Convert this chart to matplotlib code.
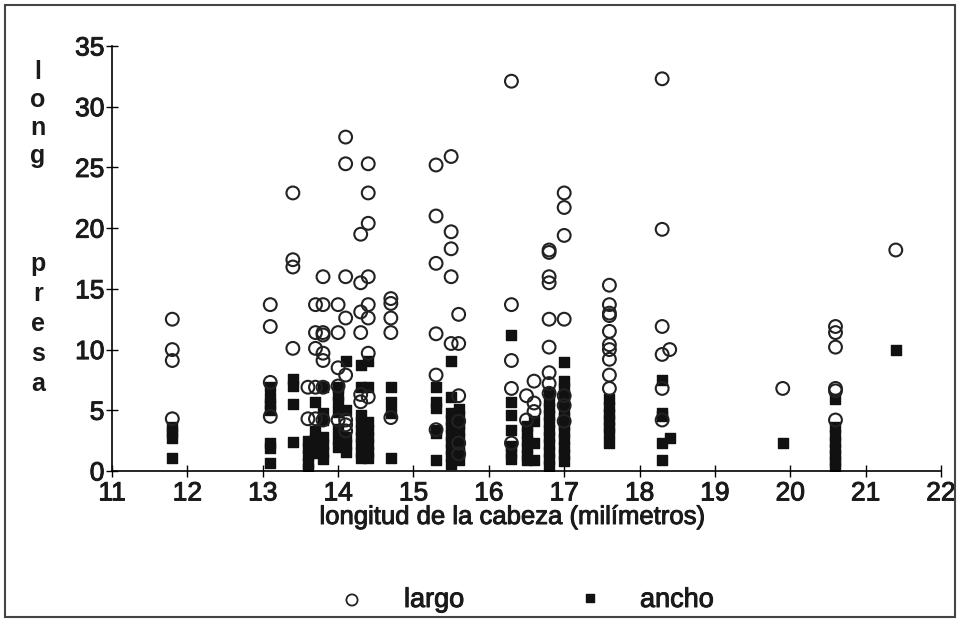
import matplotlib
matplotlib.use("Agg")
import matplotlib.pyplot as plt
import matplotlib.patheffects as pe
from matplotlib.patches import Rectangle

plt.rcParams['font.family'] = ['Liberation Sans', 'DejaVu Sans']

# longitud de la cabeza -> valores de "largo" (circulos)
largo = {
    11.8: [12.5, 10.0, 9.1, 4.3],
    13.1: [13.7, 11.9, 7.3, 4.5],
    13.4: [22.9, 17.4, 16.8, 10.1],
    13.6: [6.9, 4.3],
    13.7: [13.7, 11.4, 10.1, 6.9, 4.3],
    13.8: [16.0, 13.7, 11.4, 11.2, 9.7, 9.1, 6.9, 4.2],
    14.0: [13.7, 11.4, 8.5, 7.0, 4.2],
    14.1: [27.5, 25.3, 16.0, 12.6, 7.9, 4.2, 3.8, 3.3],
    14.3: [19.5, 15.5, 13.1, 11.4, 6.3, 5.7],
    14.4: [25.3, 22.9, 20.4, 16.0, 13.7, 12.6, 9.7, 6.1],
    14.7: [14.2, 13.8, 12.6, 11.4, 4.4],
    15.3: [25.2, 21.0, 17.1, 11.3, 7.9, 3.4],
    15.5: [25.9, 19.7, 18.3, 16.0, 10.5],
    15.6: [12.9, 10.5, 6.2, 4.1, 2.3, 1.4],
    16.3: [32.1, 13.7, 9.1, 6.8, 2.3],
    16.5: [6.2, 4.2],
    16.6: [7.4, 5.6, 4.9],
    16.8: [18.2, 18.0, 16.0, 15.5, 12.5, 10.2, 8.1, 7.2, 6.4],
    17.0: [22.9, 21.7, 19.4, 12.5, 6.2, 5.4, 4.1],
    17.6: [15.3, 13.7, 13.0, 12.8, 11.5, 10.4, 10.0, 9.2, 7.9, 6.8],
    18.3: [32.3, 19.9, 11.9, 9.6, 6.8, 4.2],
    18.4: [10.0],
    19.9: [6.8],
    20.6: [11.9, 11.4, 10.2, 6.8, 6.6, 4.2],
    21.4: [18.2],
}

# valores de "ancho" (cuadrados)
ancho = {
    11.8: [3.6, 3.2, 2.7, 1.1],
    13.1: [6.9, 6.0, 5.5, 5.0, 2.3, 1.9, 0.7],
    13.4: [7.6, 7.0, 5.5, 2.4],
    13.6: [2.5, 1.9, 1.3, 0.7, 0.2],
    13.7: [5.7, 3.3, 2.6, 2.0, 1.5],
    13.8: [6.9, 4.8, 4.2, 2.8, 2.2, 1.6, 1.0],
    14.0: [6.9, 6.3, 5.7, 4.9, 3.5, 2.6, 2.0],
    14.1: [9.1, 5.0, 2.8, 2.2, 1.6],
    14.3: [8.7, 6.9, 4.6, 4.0, 3.4, 2.8, 2.2, 1.6, 1.1],
    14.4: [9.1, 6.9, 4.0, 3.4, 2.8, 2.2, 1.6, 1.1],
    14.7: [6.9, 5.7, 4.8, 1.1],
    15.3: [6.9, 5.7, 5.2, 3.4, 3.1, 0.9],
    15.5: [9.1, 6.1, 4.8, 4.2, 3.6, 3.0, 2.4, 1.8, 1.2, 0.6],
    15.6: [5.1, 4.5, 3.9, 3.3, 2.7, 2.1, 1.5, 0.9],
    16.3: [11.2, 5.7, 4.6, 3.4, 2.1, 1.5, 1.0],
    16.5: [3.7, 3.1, 2.5, 1.9, 1.3, 0.9],
    16.6: [4.1, 2.3, 0.9],
    16.8: [6.4, 5.8, 5.2, 4.6, 4.0, 3.4, 2.8, 2.2, 1.6, 1.0, 0.4],
    17.0: [9.0, 7.4, 6.8, 6.2, 5.6, 5.0, 4.4, 3.8, 3.2, 2.6, 2.0, 1.4, 0.8],
    17.6: [5.9, 5.3, 4.7, 4.2, 3.6, 3.1, 2.3],
    18.3: [7.5, 4.8, 4.5, 2.3, 0.9],
    18.4: [2.7],
    19.9: [2.3],
    20.6: [5.9, 3.6, 3.0, 2.4, 1.8, 1.3, 0.8, 0.3],
    21.4: [10.0],
}

def flat(d):
    xs, ys = [], []
    for k, vals in d.items():
        for v in vals:
            xs.append(k)
            ys.append(v)
    return xs, ys

lx, ly = flat(largo)
ax_, ay_ = flat(ancho)

# trazo extra para imitar la tinta gruesa del escaneo
heavy = [pe.withStroke(linewidth=0.7, foreground='#1a1a1a')]

fig = plt.figure(figsize=(9.61, 6.24), dpi=100)
ax = fig.add_axes([112/961, 153/624, 829/961, 425/624])

ax.scatter(ax_, ay_, marker='s', s=55, color='#111111', zorder=2)
ax.scatter(lx, ly, marker='o', s=85, facecolors='none', edgecolors='#222222',
           linewidths=1.5, zorder=3)

ax.set_xlim(11, 22)
ax.set_ylim(0, 35)
ax.set_xticks(range(11, 23))
ax.set_yticks(range(0, 36, 5))
ax.spines['top'].set_visible(False)
ax.spines['right'].set_visible(False)
ax.spines['left'].set_linewidth(1.2)
ax.spines['bottom'].set_linewidth(1.2)
ax.tick_params(direction='inout', length=9, width=1, labelsize=19)
ax.tick_params(axis='y', pad=1)
ax.tick_params(axis='x', pad=3)
for t in ax.get_xticklabels() + ax.get_yticklabels():
    t.set_path_effects(heavy)
    t.set_color('#1a1a1a')

fig.text(513/961, 1 - 517/624, 'longitud de la cabeza (milímetros)',
         ha='center', va='center', fontsize=18.5, color='#1a1a1a',
         path_effects=heavy)

# etiqueta vertical, letra por letra
for i, ch in enumerate('long'):
    fig.text(38/961, 1 - (72 + i*28)/624, ch, ha='center', va='center',
             fontsize=18, fontweight='bold', color='#1a1a1a')
for i, ch in enumerate('presa'):
    fig.text(38/961, 1 - (264 + i*30)/624, ch, ha='center', va='center',
             fontsize=18, fontweight='bold', color='#1a1a1a')

# leyenda
lg = fig.add_axes([0, 0, 1, 1], facecolor='none')
lg.set_xlim(0, 961)
lg.set_ylim(624, 0)
lg.axis('off')
lg.scatter([352], [600], marker='o', s=65, facecolors='none', edgecolors='#222222', linewidths=1.3)
lg.scatter([590], [598], marker='s', s=32, color='#111111')
lg.text(404, 600, 'largo', va='center', ha='left', fontsize=19.5, color='#1a1a1a', path_effects=heavy)
lg.text(640, 600, 'ancho', va='center', ha='left', fontsize=19.5, color='#1a1a1a', path_effects=heavy)
lg.add_patch(Rectangle((5, 5), 950, 612, fill=False, edgecolor='#444444', linewidth=1.5))

fig.savefig('out.png', dpi=100)
